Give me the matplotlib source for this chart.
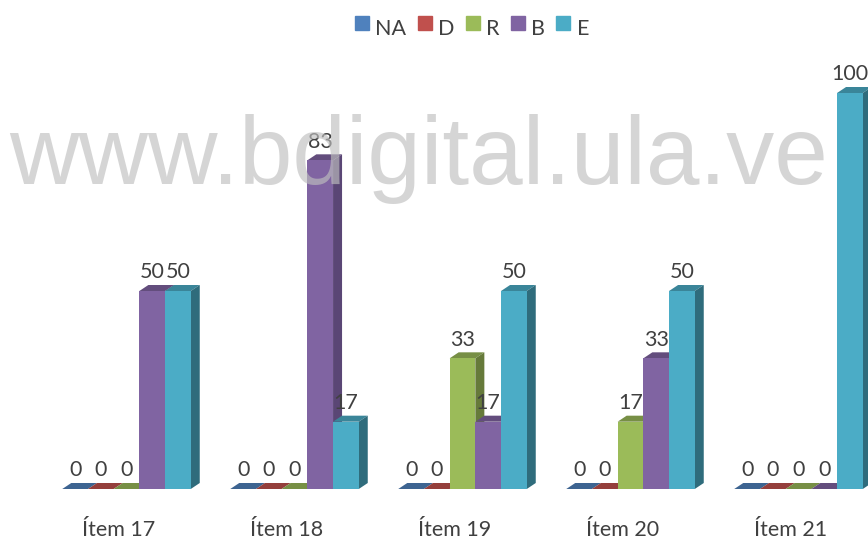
import matplotlib
matplotlib.use("Agg")
import matplotlib.pyplot as plt
from matplotlib.patches import Polygon, Patch

plt.rcParams['font.family'] = ['Lato', 'DejaVu Sans']

# Datos
items = ["Ítem 17", "Ítem 18", "Ítem 19", "Ítem 20", "Ítem 21"]
series = ["NA", "D", "R", "B", "E"]
na_vals = [0, 0, 0, 0, 0]
d_vals = [0, 0, 0, 0, 0]
r_vals = [0, 0, 33, 17, 0]
b_vals = [50, 83, 17, 33, 0]
e_vals = [50, 17, 50, 50, 100]

front_colors = ["#4F81BD", "#C0504D", "#9BBB59", "#8064A2", "#4BACC6"]
top_colors = ["#3D6491", "#943E3B", "#778F45", "#634D7D", "#3A8599"]
side_colors = ["#2F4D70", "#72302E", "#667A3A", "#5A4675", "#2F6C7C"]
text_color = "#404040"

W, H = 868, 540
base_px = 489        # linea base
px_per_val = 3.96
group_px = 168
first_px = 126.5     # centro del primer grupo
bar_w = 25.7 / group_px
depth_x = 9 / group_px
depth_y = 6 / px_per_val

fig = plt.figure(figsize=(W / 100, H / 100), dpi=100)
ax = fig.add_axes([0, 0, 1, 1])
ax.set_xlim(-first_px / group_px, (W - first_px) / group_px)
ax.set_ylim(-(H - base_px) / px_per_val, base_px / px_per_val)
ax.axis("off")

all_vals = [na_vals, d_vals, r_vals, b_vals, e_vals]
# de izquierda a derecha: cada barra tapa la cara lateral de la anterior
for s, vals in enumerate(all_vals):
    xs = [i + (s - 2) * bar_w for i in range(len(items))]
    for x, v in zip(xs, vals):
        x0, x1 = x - bar_w / 2, x + bar_w / 2
        top = [(x0, v), (x1, v), (x1 + depth_x, v + depth_y), (x0 + depth_x, v + depth_y)]
        ax.add_patch(Polygon(top, color=top_colors[s], lw=0, zorder=2 + s))
        if v > 0:
            side = [(x1, 0), (x1 + depth_x, depth_y), (x1 + depth_x, v + depth_y), (x1, v)]
            ax.add_patch(Polygon(side, color=side_colors[s], lw=0, zorder=2 + s))
        ax.annotate(str(v), (x, v), xytext=(0, 13.5), textcoords="offset points", ha="center", va="center",
                    fontsize=15.5, color=text_color, zorder=30, annotation_clip=False)
    ax.bar(xs, vals, width=bar_w, color=front_colors[s], zorder=2 + s)

for i, name in enumerate(items):
    ax.annotate(name, (i, 0), xytext=(-5.5, -29.5), textcoords="offset points", ha="center", va="center",
                fontsize=15.5, color=text_color)

handles = [Patch(color=c, label=n) for c, n in zip(front_colors, series)]
leg = ax.legend(handles=handles, loc="upper center", bbox_to_anchor=(0.544, 1.001), ncol=5, frameon=False, fontsize=15.5,
                labelcolor=text_color, handlelength=0.65, handleheight=0.65, handletextpad=0.3, columnspacing=0.52)
# los cuadros van un poco mas arriba que el texto
for p in leg.get_patches():
    p.set_y(p.get_y() + 3)

# marca de agua
fig.text(0.482, 1 - 184 / H, "www.bdigital.ula.ve", family="Liberation Sans", fontsize=69.3, color="#BFBFBF", alpha=0.65,
         ha="center", va="baseline", zorder=50)

fig.savefig("out.png", dpi=100)
